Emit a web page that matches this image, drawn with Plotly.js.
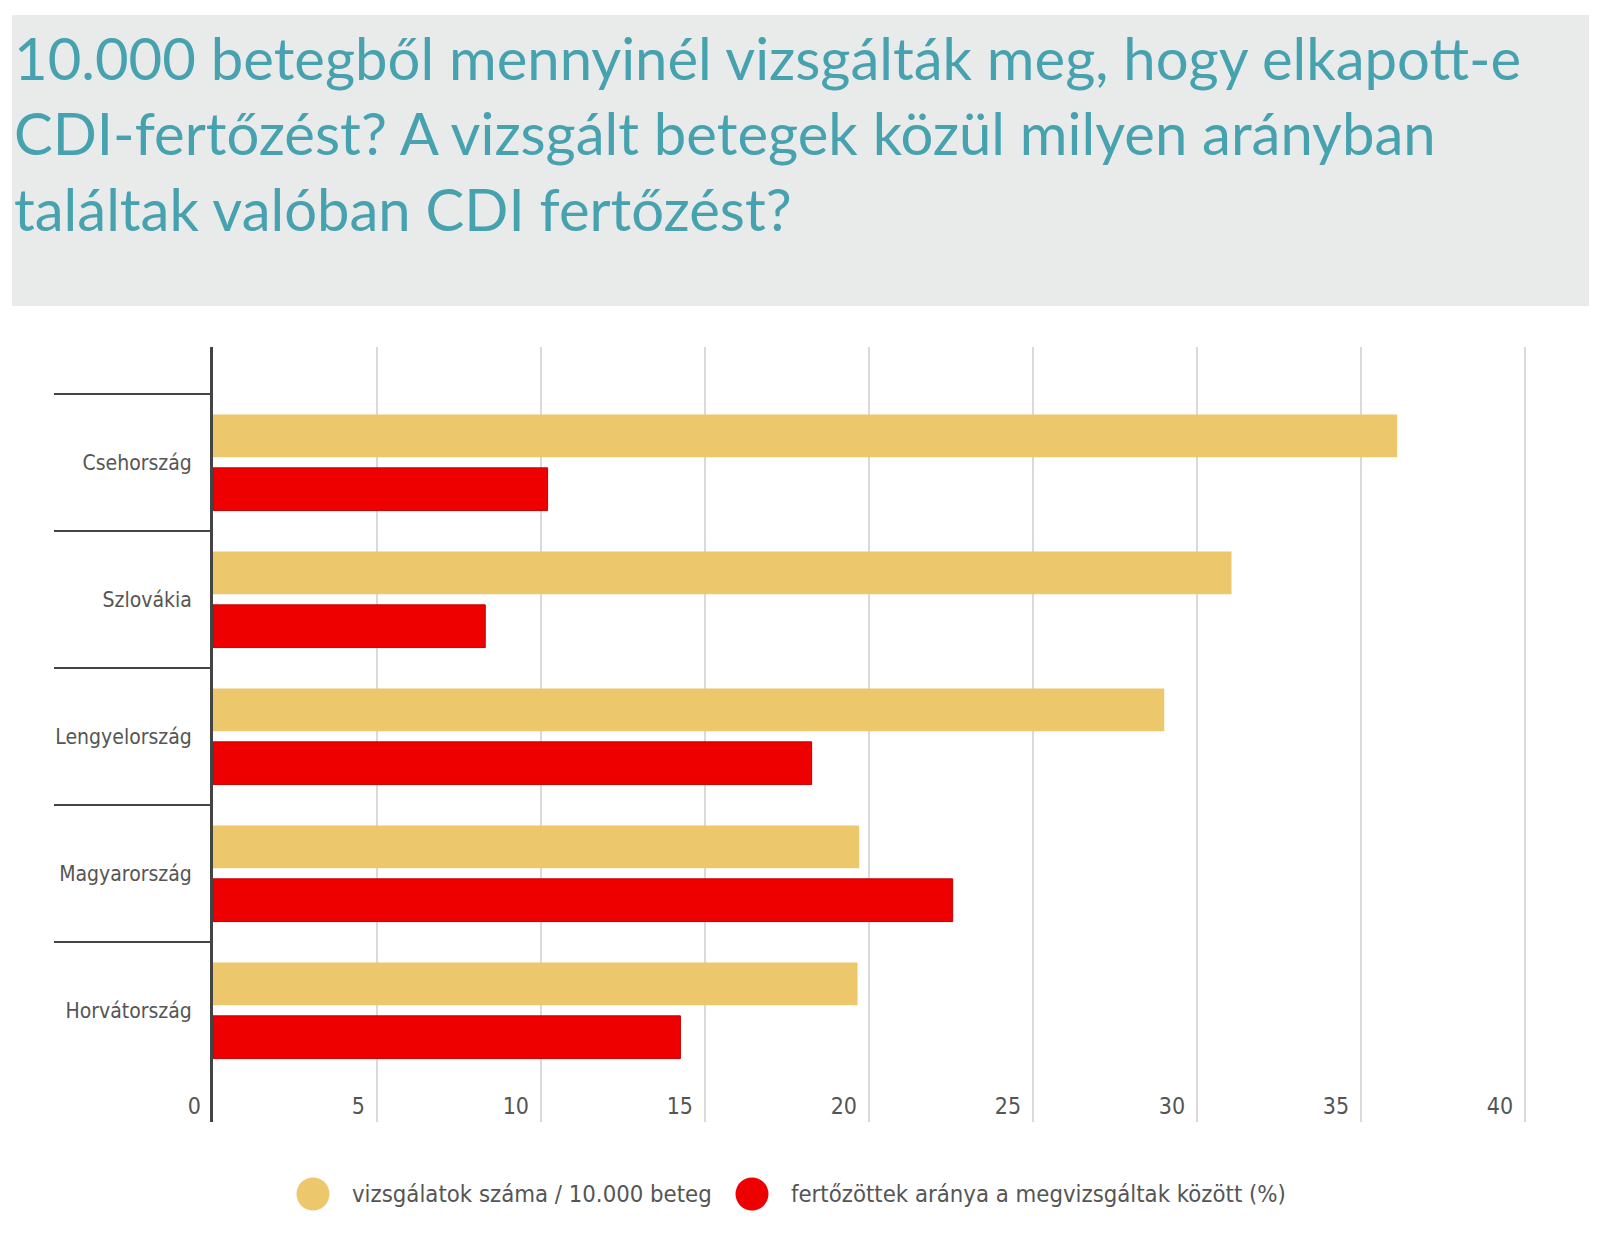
<!DOCTYPE html>
<html>
<head>
<meta charset="utf-8">
<script src="https://cdn.plot.ly/plotly-3.0.1.min.js"></script>
<style>
  html, body { margin: 0; padding: 0; background: #ffffff; }
  #chart { width: 1600px; height: 1243px; }
</style>
</head>
<body>
<div id="chart"></div>
<script>
// ---- data ----
const countries = ['Csehország', 'Szlovákia', 'Lengyelország', 'Magyarország', 'Horvátország'];
const testsPer10k = [36.1, 31.05, 29.0, 19.7, 19.65];
const positiveShare = [10.2, 8.3, 18.25, 22.55, 14.25];
const seriesNames = ['vizsgálatok száma / 10.000 beteg', 'fertőzöttek aránya a megvizsgáltak között (%)'];
const xTicks = [0, 5, 10, 15, 20, 25, 30, 35, 40];
const titleText = '10.000 betegből mennyinél vizsgálták meg, hogy elkapott-e<br>CDI-fertőzést? A vizsgált betegek közül milyen arányban<br>találtak valóban CDI fertőzést?';

// ---- style ----
const W = 1600, H = 1243;
const M = { l: 213, r: 70, t: 347, b: 121 };
const PW = W - M.l - M.r, PH = H - M.t - M.b;
const px2x = px => (px - M.l) / PW;
const py2y = py => (H - M.b - py) / PH;

const YELLOW = '#ecc76c';
const RED = '#ee0000';
const LABEL_FONT = "'Liberation Sans Narrow', 'DejaVu Sans Condensed', 'Roboto Condensed', 'Arial Narrow', sans-serif";
const TITLE_FONT = "Lato, 'Open Sans', sans-serif";

const traces = [
  {
    type: 'bar', orientation: 'h', name: seriesNames[0],
    y: countries, x: testsPer10k,
    marker: { color: YELLOW, line: { width: 0 } },
    showlegend: false, hoverinfo: 'x+y'
  },
  {
    type: 'bar', orientation: 'h', name: seriesNames[1],
    y: countries, x: positiveShare,
    marker: { color: RED, line: { color: '#c40000', width: 1 } },
    showlegend: false, hoverinfo: 'x+y'
  },
  {
    // carries the category list for the boundary-tick overlay axis
    type: 'scatter', mode: 'none', yaxis: 'y2',
    y: countries, x: testsPer10k,
    showlegend: false, hoverinfo: 'skip'
  }
];

const yRange = [countries.length - 0.5 + 0.314, -0.5 - 0.343];

const layout = {
  width: W, height: H,
  margin: M,
  paper_bgcolor: '#ffffff',
  plot_bgcolor: 'rgba(0,0,0,0)',
  barmode: 'group',
  bargap: 0.22,
  bargroupgap: 0.2,
  title: {
    text: titleText,
    xref: 'container', x: 14 / W, xanchor: 'left',
    yref: 'container', y: 1 - 80 / H, yanchor: 'top',
    font: { family: TITLE_FONT, size: 58, color: '#47a2b0' }
  },
  xaxis: {
    range: [0, 40.15],
    tickmode: 'array', tickvals: xTicks, ticktext: xTicks.map(String),
    showgrid: true, gridcolor: '#dadada', gridwidth: 2,
    zeroline: false, showline: false, ticks: '',
    anchor: 'free', position: py2y(1090),
    ticklabelposition: 'outside left', ticklabelshift: -12,
    tickfont: { family: LABEL_FONT, size: 23, color: '#555555' },
    fixedrange: true
  },
  yaxis: {
    type: 'category',
    categoryorder: 'array', categoryarray: countries,
    range: yRange,
    showgrid: false, zeroline: false,
    showline: true, linecolor: '#444444', linewidth: 3,
    ticks: '', ticklabelstandoff: 14,
    tickfont: { family: LABEL_FONT, size: 21, color: '#555555' },
    fixedrange: true
  },
  yaxis2: {
    type: 'category',
    overlaying: 'y', matches: 'y', side: 'left',
    categoryorder: 'array', categoryarray: countries,
    showgrid: false, zeroline: false, showline: false,
    ticks: 'outside', tickson: 'boundaries', ticklen: 158,
    tickwidth: 2, tickcolor: '#444444',
    showticklabels: false,
    fixedrange: true
  },
  shapes: [
    {
      type: 'rect', xref: 'paper', yref: 'paper', layer: 'below',
      x0: px2x(12), x1: px2x(1589), y0: py2y(306), y1: py2y(15),
      fillcolor: '#e9eaea', line: { width: 0 }
    },
    {
      type: 'circle', xref: 'paper', yref: 'paper',
      xsizemode: 'pixel', ysizemode: 'pixel',
      xanchor: px2x(313), yanchor: py2y(1194),
      x0: -16.5, x1: 16.5, y0: -16.5, y1: 16.5,
      fillcolor: YELLOW, line: { width: 0 }
    },
    {
      type: 'circle', xref: 'paper', yref: 'paper',
      xsizemode: 'pixel', ysizemode: 'pixel',
      xanchor: px2x(752), yanchor: py2y(1194),
      x0: -16.5, x1: 16.5, y0: -16.5, y1: 16.5,
      fillcolor: RED, line: { width: 0 }
    }
  ],
  annotations: [
    {
      xref: 'paper', yref: 'paper', x: px2x(350), y: py2y(1194),
      xanchor: 'left', yanchor: 'middle', showarrow: false,
      text: seriesNames[0],
      font: { family: LABEL_FONT, size: 23.7, color: '#555555' }
    },
    {
      xref: 'paper', yref: 'paper', x: px2x(789), y: py2y(1194),
      xanchor: 'left', yanchor: 'middle', showarrow: false,
      text: seriesNames[1],
      font: { family: LABEL_FONT, size: 23.7, color: '#555555' }
    }
  ],
  hovermode: 'closest'
};

Plotly.newPlot('chart', traces, layout, { displayModeBar: false, staticPlot: false, responsive: false });
</script>
</body>
</html>
